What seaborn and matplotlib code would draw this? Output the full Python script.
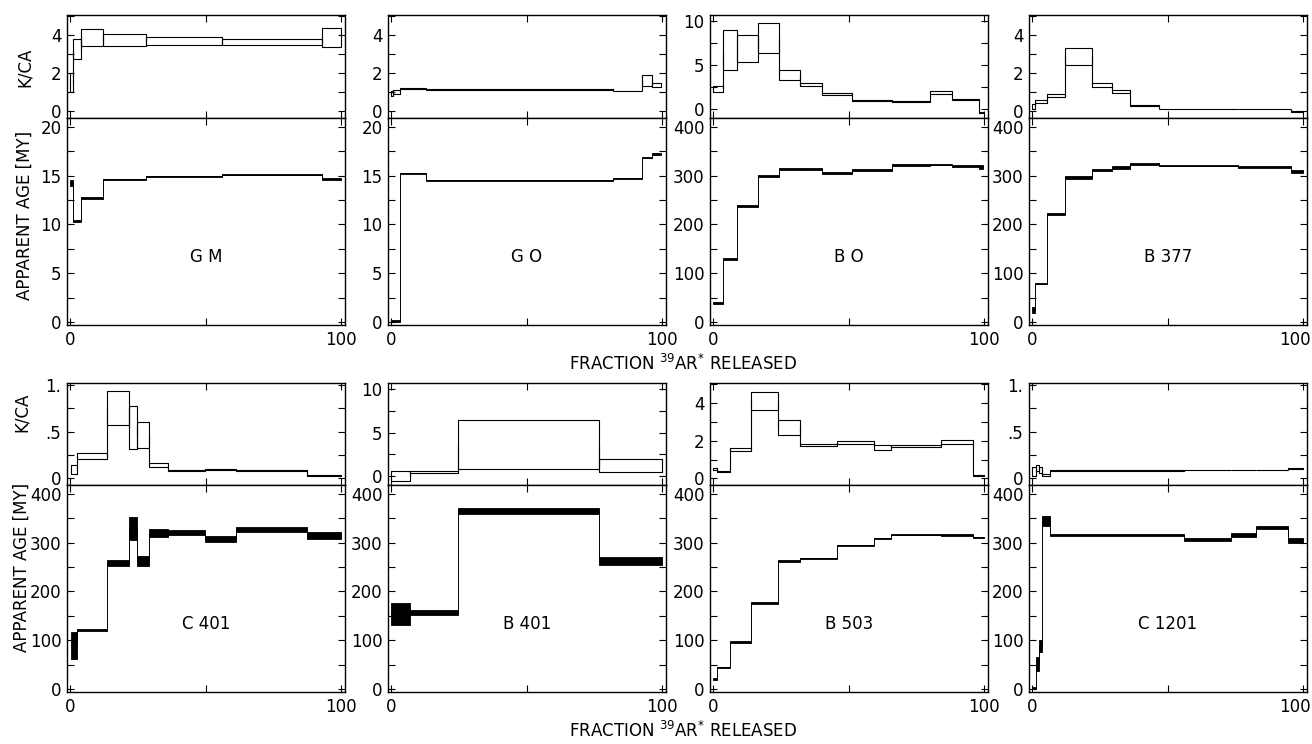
import matplotlib
matplotlib.use("Agg")
import matplotlib.pyplot as plt
import matplotlib.transforms as mtransforms
from matplotlib.ticker import MultipleLocator, FixedLocator, FixedFormatter
import seaborn as sns
import numpy as np

sns.set_theme(style="ticks")
plt.rcParams["font.family"] = ["DejaVu Sans"]
plt.rcParams.update({"text.color": "black", "axes.labelcolor": "black",
                     "xtick.color": "black", "ytick.color": "black"})

# step data: cumulative fraction edges, K/CA box limits, apparent age box limits

gm_edges = [0, 1.0, 4.0, 12.0, 27.9, 56.1, 92.9, 100]
gm_kca_lo = [1.0, 2.75, 3.45, 3.40, 3.47, 3.47, 3.35]
gm_kca_hi = [2.0, 3.81, 4.32, 4.03, 3.91, 3.81, 4.36]
gm_age_lo = [13.9, 10.25, 12.6, 14.55, 14.9, 15.05, 14.6]
gm_age_hi = [14.6, 10.45, 12.8, 14.7, 15.0, 15.15, 14.75]

go_edges = [0, 0.5, 3.1, 13.0, 82.0, 92.5, 96.5, 99.6]
go_kca_lo = [0.8, 0.92, 1.15, 1.14, 1.04, 1.35, 1.25]
go_kca_hi = [1.05, 1.13, 1.21, 1.18, 1.09, 1.90, 1.47]
go_age_lo = [0.0, 0.0, 15.2, 14.45, 14.7, 16.8, 17.1]
go_age_hi = [0.2, 0.2, 15.3, 14.55, 14.8, 16.9, 17.35]

bo_edges = [0, 3.5, 8.9, 16.7, 24.4, 32.1, 40.1, 51.2, 66.0, 80.0, 88.3, 98.1, 99.8]
bo_kca_lo = [1.92, 4.42, 5.38, 6.42, 3.35, 2.58, 1.60, 0.96, 0.80, 1.73, 1.04, -0.4]
bo_kca_hi = [2.58, 9.04, 8.38, 9.80, 4.50, 3.00, 1.85, 1.08, 0.88, 2.04, 1.15, -0.3]
bo_age_lo = [38, 127, 236, 297, 312, 312, 304, 310, 319, 321, 317, 314]
bo_age_hi = [42, 131, 240, 301, 316, 316, 308, 314, 323, 324, 321, 322]

b377_edges = [0, 1.2, 5.6, 12.1, 21.9, 29.6, 36.2, 46.9, 75.9, 95.7, 100]
b377_kca_lo = [0.13, 0.45, 0.75, 2.45, 1.29, 0.98, 0.30, 0.10, 0.10, -0.02]
b377_kca_hi = [0.39, 0.57, 0.89, 3.34, 1.46, 1.10, 0.34, 0.14, 0.14, 0.03]
b377_age_lo = [18, 77, 219, 294, 309, 314, 321, 319, 315, 306]
b377_age_hi = [30, 80, 223, 300, 314, 319, 326, 322, 319, 312]

c401_edges = [0.3, 2.5, 13.5, 21.7, 24.8, 29.1, 36.1, 49.6, 61.1, 87.5, 100]
c401_kca_lo = [0.05, 0.21, 0.57, 0.31, 0.33, 0.125, 0.08, 0.09, 0.08, 0.03]
c401_kca_hi = [0.14, 0.27, 0.93, 0.775, 0.60, 0.16, 0.09, 0.10, 0.09, 0.04]
c401_age_lo = [62, 118, 253, 305, 253, 312, 316, 302, 322, 308]
c401_age_hi = [117, 124, 265, 353, 272, 328, 325, 314, 332, 321]

b401_edges = [0, 6.8, 24.6, 76.6, 100]
b401_kca_lo = [-0.5, 0.35, 0.8, 0.45]
b401_kca_hi = [0.55, 0.6, 6.4, 1.95]
b401_age_lo = [132, 152, 358, 255]
b401_age_hi = [176, 162, 370, 270]

b503_edges = [0, 1.5, 6.2, 13.9, 23.8, 31.9, 45.8, 59.4, 65.6, 84.2, 95.9, 100]
b503_kca_lo = [0.45, 0.36, 1.46, 3.62, 2.32, 1.70, 1.82, 1.52, 1.68, 1.84, 0.12]
b503_kca_hi = [0.57, 0.41, 1.60, 4.55, 3.07, 1.84, 1.96, 1.75, 1.79, 2.04, 0.16]
b503_age_lo = [19, 43, 95, 175, 261, 266, 293, 307, 315, 314, 309]
b503_age_hi = [22, 46, 98, 178, 264, 269, 296, 310, 317, 317, 312]

c1201_edges = [0, 1.5, 2.5, 3.7, 6.4, 56.2, 73.5, 82.7, 94.4, 100]
c1201_kca_lo = [0.03, 0.08, 0.06, 0.03, 0.075, 0.085, 0.085, 0.085, 0.10]
c1201_kca_hi = [0.12, 0.14, 0.12, 0.045, 0.085, 0.095, 0.095, 0.095, 0.115]
c1201_age_lo = [0, 38, 76, 333, 313, 303, 312, 327, 300]
c1201_age_hi = [5, 65, 100, 355, 318, 310, 320, 334, 310]

names = ["G M", "G O", "B O", "B 377", "C 401", "B 401", "B 503", "C 1201"]
kca_scale = [4, 4, 10, 4, 1, 10, 4, 1]
age_scale = [20, 20, 400, 400, 400, 400, 400, 400]

panels = [
    (gm_edges, gm_kca_lo, gm_kca_hi, gm_age_lo, gm_age_hi),
    (go_edges, go_kca_lo, go_kca_hi, go_age_lo, go_age_hi),
    (bo_edges, bo_kca_lo, bo_kca_hi, bo_age_lo, bo_age_hi),
    (b377_edges, b377_kca_lo, b377_kca_hi, b377_age_lo, b377_age_hi),
    (c401_edges, c401_kca_lo, c401_kca_hi, c401_age_lo, c401_age_hi),
    (b401_edges, b401_kca_lo, b401_kca_hi, b401_age_lo, b401_age_hi),
    (b503_edges, b503_kca_lo, b503_kca_hi, b503_age_lo, b503_age_hi),
    (c1201_edges, c1201_kca_lo, c1201_kca_hi, c1201_age_lo, c1201_age_hi),
]

W, H = 1312, 744
fig = plt.figure(figsize=(W / 100, H / 100), dpi=100)


def px_axes(x0, y0, x1, y1):
    return fig.add_axes([x0 / W, 1 - y1 / H, (x1 - x0) / W, (y1 - y0) / H])


def style_axes(ax):
    for s in ax.spines.values():
        s.set_linewidth(1.0)
        s.set_color("black")
    ax.tick_params(which="both", direction="in", top=True, right=True,
                   length=5, width=0.8, colors="black", labelsize=12, pad=4)
    ax.set_xlim(-1.2, 101.5)
    ax.xaxis.set_major_locator(FixedLocator([0, 50, 100]))


kca_cfg = {
    4: ((-0.35, 5.05), [0, 2, 4], ["0", "2", "4"], 1),
    10: ((-1.0, 10.7), [0, 5, 10], ["0", "5", "10"], 2.5),
    1: ((-0.07, 1.02), [0, 0.5, 1.0], ["0", ".5", "1."], 0.25),
}
age_cfg = {
    20: ((-0.3, 20.9), [0, 5, 10, 15, 20], 2.5),
    400: ((-6, 418), [0, 100, 200, 300, 400], 50),
}

col_left = [67, 388, 710, 1029]
col_w = 278
rows = [(15, 118, 325), (383, 485, 692)]

for i, (edges, klo, khi, alo, ahi) in enumerate(panels):
    r, c = divmod(i, 4)
    top, mid, bot = rows[r]
    x0 = col_left[c]
    ax_k = px_axes(x0, top, x0 + col_w, mid)
    ax_a = px_axes(x0, mid, x0 + col_w, bot)
    style_axes(ax_k)
    style_axes(ax_a)

    # K/CA open boxes
    for j in range(len(klo)):
        ax_k.fill_between([edges[j], edges[j + 1]], klo[j], khi[j],
                          facecolor="none", edgecolor="black", lw=0.8)
    kmid = (np.array(klo) + np.array(khi)) / 2
    ax_k.vlines(edges[1:-1], kmid[:-1], kmid[1:], color="black", lw=0.8)

    # apparent age filled boxes with step connectors
    amid = (np.array(alo) + np.array(ahi)) / 2
    sns.lineplot(x=list(edges), y=list(amid) + [amid[-1]], ax=ax_a,
                 drawstyle="steps-post", estimator=None, sort=False,
                 color="black", lw=0.7)
    for j in range(len(alo)):
        ax_a.fill_between([edges[j], edges[j + 1]], alo[j], ahi[j],
                          color="black", lw=0.6)

    lim, maj, lab, minor = kca_cfg[kca_scale[i]]
    ax_k.set_ylim(*lim)
    ax_k.yaxis.set_major_locator(FixedLocator(maj))
    ax_k.yaxis.set_major_formatter(FixedFormatter(lab))
    ax_k.yaxis.set_minor_locator(MultipleLocator(minor))
    ax_k.set_xticklabels([])

    alim, amaj, aminor = age_cfg[age_scale[i]]
    ax_a.set_ylim(*alim)
    ax_a.yaxis.set_major_locator(FixedLocator(amaj))
    ax_a.yaxis.set_minor_locator(MultipleLocator(aminor))
    ax_a.set_xticklabels(["0", "", "100"])
    ax_a.tick_params(axis="x", pad=4)
    ax_a.set_xlabel("")
    ax_a.set_ylabel("")

    # keep the last column's "100" inside the figure edge
    if c == 3:
        lbl = ax_a.get_xticklabels()[2]
        shift = mtransforms.ScaledTranslation(-8 / 100, 0, fig.dpi_scale_trans)
        lbl.set_transform(lbl.get_transform() + shift)

    ax_a.text(0.5, 0.33, names[i], transform=ax_a.transAxes,
              ha="center", va="center", fontsize=12)

# axis titles
fig.text(25 / W, 1 - 67 / H, "K/CA", rotation=90, ha="center", va="center", fontsize=12)
fig.text(25 / W, 1 - 215 / H, "APPARENT AGE [MY]", rotation=90, ha="center", va="center", fontsize=12)
fig.text(22 / W, 1 - 412 / H, "K/CA", rotation=90, ha="center", va="center", fontsize=12)
fig.text(22 / W, 1 - 567 / H, "APPARENT AGE [MY]", rotation=90, ha="center", va="center", fontsize=12)

for yy in (364, 731):
    fig.text(683 / W, 1 - yy / H, r"FRACTION $^{39}$AR$^{*}$ RELEASED",
             ha="center", va="center", fontsize=12)

fig.savefig("out.png", dpi=100, facecolor="white")
